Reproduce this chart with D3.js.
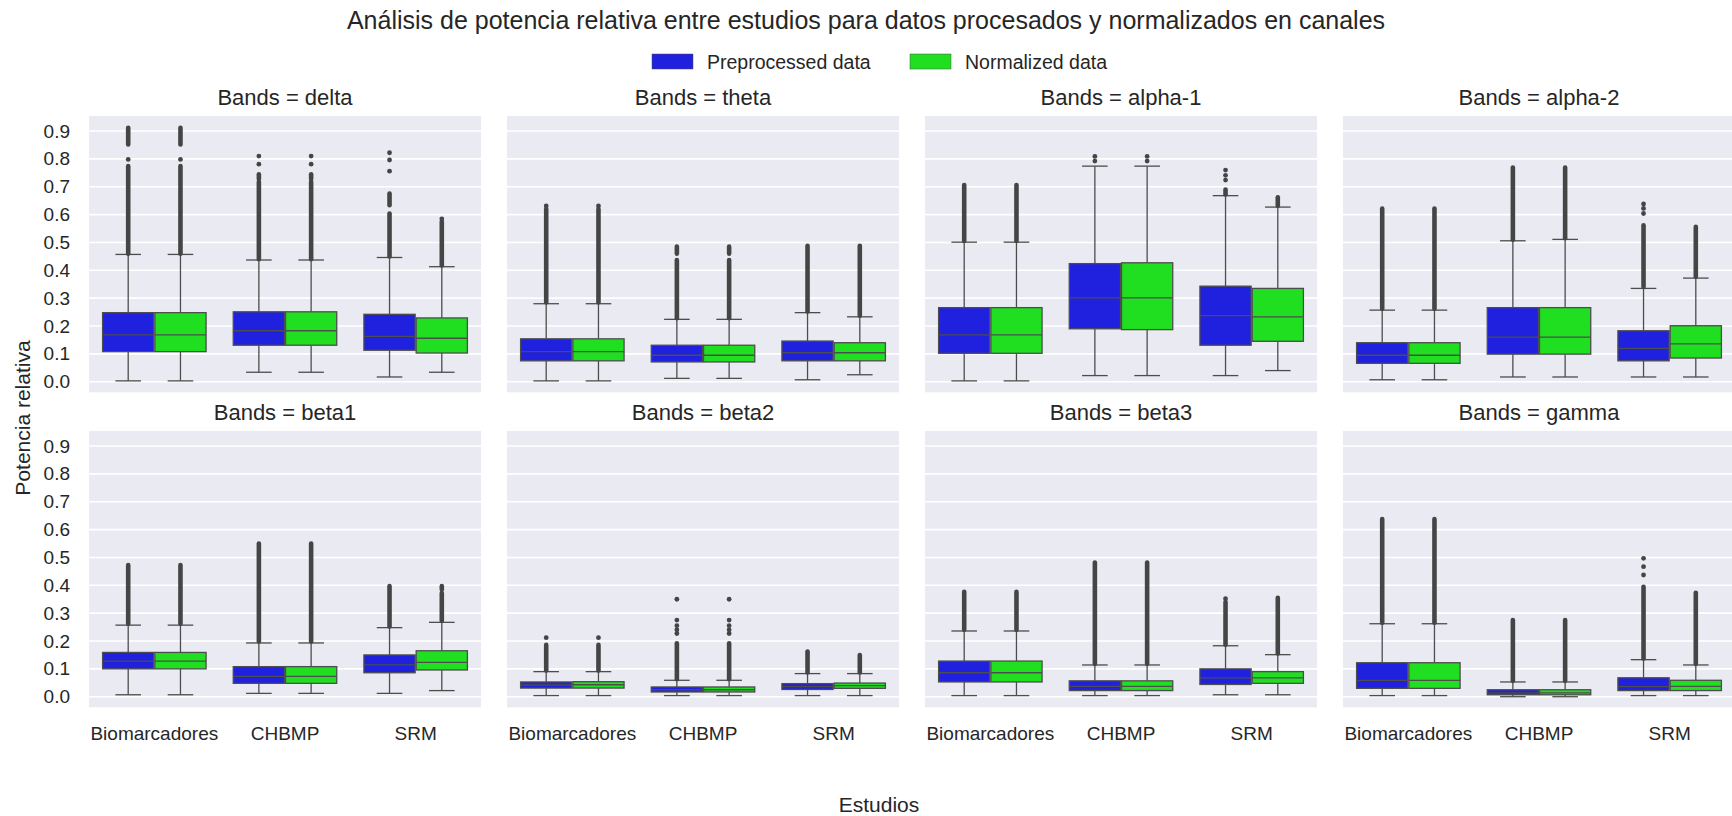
<!DOCTYPE html>
<html><head><meta charset="utf-8">
<script src="https://cdn.jsdelivr.net/npm/d3@7"></script>
<style>
html,body{margin:0;padding:0;background:#fff;overflow:hidden}
svg{display:block}
text{font-family:"Liberation Sans",Arial,Helvetica,sans-serif;fill:#262626}
</style>
</head><body>
<svg id="chart" width="1732" height="816"></svg>
<script>
// ---------------- DATA ----------------
const bands = ["delta","theta","alpha-1","alpha-2","beta1","beta2","beta3","gamma"];
const studies = ["Biomarcadores","CHBMP","SRM"];
const hues = ["Preprocessed data","Normalized data"];
const hueColors = ["#2020df","#20df20"];
const yTicks = [0,0.1,0.2,0.3,0.4,0.5,0.6,0.7,0.8,0.9];
const yTickLabels = ["0.0","0.1","0.2","0.3","0.4","0.5","0.6","0.7","0.8","0.9"];
const titleText = "Análisis de potencia relativa entre estudios para datos procesados y normalizados en canales";
const xLabel = "Estudios";
const yLabel = "Potencia relativa";

// Per band: 6 boxes ordered [Bio-Pre, Bio-Norm, CHBMP-Pre, CHBMP-Norm, SRM-Pre, SRM-Norm]
const whiskerLow = [
  [0.003,0.003,0.034,0.034,0.017,0.034],
  [0.003,0.003,0.012,0.012,0.007,0.025],
  [0.003,0.003,0.022,0.022,0.022,0.040],
  [0.007,0.007,0.017,0.017,0.017,0.017],
  [0.007,0.007,0.012,0.012,0.012,0.022],
  [0.004,0.004,0.004,0.004,0.004,0.004],
  [0.004,0.004,0.004,0.004,0.007,0.007],
  [0.004,0.004,0.000,0.000,0.004,0.004]
];
const q1 = [
  [0.108,0.108,0.131,0.131,0.113,0.103],
  [0.075,0.075,0.071,0.071,0.075,0.075],
  [0.102,0.102,0.190,0.187,0.131,0.145],
  [0.066,0.066,0.099,0.099,0.075,0.085],
  [0.100,0.100,0.048,0.048,0.086,0.096],
  [0.031,0.031,0.017,0.017,0.026,0.030],
  [0.053,0.053,0.022,0.022,0.044,0.048],
  [0.030,0.030,0.007,0.007,0.022,0.022]
];
const median = [
  [0.168,0.168,0.183,0.183,0.163,0.156],
  [0.108,0.108,0.095,0.095,0.104,0.104],
  [0.168,0.168,0.301,0.301,0.237,0.233],
  [0.095,0.095,0.160,0.160,0.120,0.136],
  [0.128,0.128,0.073,0.073,0.114,0.123],
  [0.042,0.043,0.025,0.025,0.036,0.040],
  [0.086,0.086,0.037,0.037,0.068,0.068],
  [0.059,0.059,0.014,0.014,0.036,0.037]
];
const q3 = [
  [0.248,0.248,0.251,0.251,0.242,0.229],
  [0.154,0.154,0.131,0.131,0.146,0.140],
  [0.266,0.266,0.424,0.427,0.343,0.335],
  [0.140,0.140,0.266,0.266,0.183,0.201],
  [0.159,0.159,0.108,0.108,0.150,0.165],
  [0.053,0.054,0.035,0.035,0.047,0.049],
  [0.128,0.128,0.057,0.057,0.100,0.090],
  [0.122,0.122,0.025,0.025,0.068,0.059]
];
const whiskerHigh = [
  [0.457,0.457,0.437,0.437,0.446,0.413],
  [0.280,0.280,0.224,0.224,0.248,0.233],
  [0.501,0.501,0.774,0.774,0.668,0.627],
  [0.257,0.257,0.506,0.511,0.335,0.372],
  [0.257,0.257,0.193,0.193,0.248,0.267],
  [0.090,0.090,0.059,0.059,0.083,0.083],
  [0.236,0.236,0.114,0.114,0.183,0.151],
  [0.262,0.262,0.053,0.053,0.133,0.114]
];
// Dense runs of outliers [from, to]
const flierRuns = [
  [[[0.46,0.774],[0.852,0.912]],[[0.46,0.774],[0.852,0.912]],[[0.44,0.718],[0.728,0.745]],[[0.44,0.718],[0.728,0.745]],[[0.45,0.604],[0.634,0.676]],[[0.417,0.575]]],
  [[[0.285,0.62]],[[0.285,0.62]],[[0.228,0.437],[0.46,0.485]],[[0.228,0.437],[0.46,0.485]],[[0.252,0.488]],[[0.237,0.488]]],
  [[[0.505,0.706]],[[0.505,0.706]],[],[],[[0.672,0.69]],[[0.632,0.662]]],
  [[[0.262,0.622]],[[0.262,0.622]],[[0.51,0.769]],[[0.515,0.769]],[[0.34,0.562]],[[0.377,0.556]]],
  [[[0.262,0.473]],[[0.262,0.473]],[[0.198,0.55]],[[0.198,0.55]],[[0.252,0.397]],[[0.272,0.372],[0.385,0.397]]],
  [[[0.094,0.186]],[[0.094,0.186]],[[0.063,0.192]],[[0.063,0.192]],[[0.087,0.162]],[[0.087,0.15]]],
  [[[0.24,0.377]],[[0.24,0.377]],[[0.118,0.482]],[[0.118,0.482]],[[0.187,0.34]],[[0.155,0.355]]],
  [[[0.266,0.638]],[[0.266,0.638]],[[0.057,0.275]],[[0.057,0.275]],[[0.137,0.395]],[[0.118,0.373]]]
];
// Isolated outliers
const flierPoints = [
  [[0.798],[0.798],[0.781,0.81],[0.781,0.81],[0.756,0.796,0.822],[0.585]],
  [[0.631],[0.631],[],[],[],[]],
  [[],[],[0.792,0.809],[0.792,0.809],[0.724,0.741,0.76],[]],
  [[],[],[],[],[0.604,0.622,0.638],[]],
  [[],[],[],[],[],[]],
  [[0.212],[0.212],[0.227,0.24,0.255,0.275,0.35],[0.227,0.24,0.255,0.275,0.35],[],[]],
  [[],[],[],[],[0.352],[]],
  [[],[],[],[],[0.437,0.467,0.497],[]]
];

// ---------------- LAYOUT ----------------
const svg = d3.select("#chart");
const panelW = 392, panelH = 276.3;
const panelX0 = 89, panelPitchX = 418;
const panelY0 = 116, panelPitchY = 315;
const lineColor = "#4d4d4d";
const flierColor = "#454545";

const y = d3.scaleLinear().domain([-0.038, 0.954]).range([panelH, 0]);
const x = d3.scaleBand().domain(studies).range([0, panelW]).paddingInner(0).paddingOuter(0);
const bw = x.bandwidth();
const xh = d3.scaleBand().domain(hues).range([-0.4*bw, 0.4*bw]);
const boxW = xh.bandwidth()*0.98;

bands.forEach((band, bi) => {
  const col = bi % 4, row = Math.floor(bi / 4);
  const g = svg.append("g").attr("transform", `translate(${panelX0 + col*panelPitchX},${panelY0 + row*panelPitchY})`);
  g.append("rect").attr("width", panelW).attr("height", panelH).attr("fill", "#eaeaf2");
  g.selectAll("line.grid").data(yTicks).join("line")
    .attr("x1", 0).attr("x2", panelW)
    .attr("y1", d => y(d)).attr("y2", d => y(d))
    .attr("stroke", "#fff").attr("stroke-width", 1.6);

  g.append("text").attr("x", panelW/2).attr("y", -19)
    .attr("text-anchor", "middle").attr("dominant-baseline", "central")
    .attr("font-size", 22).text("Bands = " + band);

  if (col === 0) {
    g.selectAll("text.yt").data(yTicks).join("text")
      .attr("x", -19).attr("y", d => y(d))
      .attr("text-anchor", "end").attr("dominant-baseline", "central")
      .attr("font-size", 19).text((d, i) => yTickLabels[i]);
  }
  if (row === 1) {
    g.selectAll("text.xt").data(studies).join("text")
      .attr("x", d => x(d) + bw/2).attr("y", 733 - (panelY0 + panelPitchY))
      .attr("text-anchor", "middle").attr("dominant-baseline", "central")
      .attr("font-size", 19).text(d => d);
  }

  studies.forEach((st, si) => {
    hues.forEach((hu, hi) => {
      const k = si*2 + hi;
      const cx = x(st) + bw/2 + xh(hu) + xh.bandwidth()/2;
      const left = cx - boxW/2;
      const capW = boxW/2;
      g.append("line").attr("x1", cx).attr("x2", cx)
        .attr("y1", y(q1[bi][k])).attr("y2", y(whiskerLow[bi][k]))
        .attr("stroke", lineColor).attr("stroke-width", 1.3);
      g.append("line").attr("x1", cx).attr("x2", cx)
        .attr("y1", y(q3[bi][k])).attr("y2", y(whiskerHigh[bi][k]))
        .attr("stroke", lineColor).attr("stroke-width", 1.3);
      [whiskerLow[bi][k], whiskerHigh[bi][k]].forEach(v => {
        g.append("line").attr("x1", cx - capW/2).attr("x2", cx + capW/2)
          .attr("y1", y(v)).attr("y2", y(v))
          .attr("stroke", lineColor).attr("stroke-width", 1.3);
      });
      g.append("rect").attr("x", left).attr("width", boxW)
        .attr("y", y(q3[bi][k])).attr("height", y(q1[bi][k]) - y(q3[bi][k]))
        .attr("fill", hueColors[hi]).attr("stroke", lineColor).attr("stroke-width", 1.3);
      g.append("line").attr("x1", left).attr("x2", left + boxW)
        .attr("y1", y(median[bi][k])).attr("y2", y(median[bi][k]))
        .attr("stroke", lineColor).attr("stroke-width", 1.3);
      flierRuns[bi][k].forEach(r => {
        g.append("line").attr("x1", cx).attr("x2", cx)
          .attr("y1", y(r[0])).attr("y2", y(r[1]))
          .attr("stroke", flierColor).attr("stroke-width", 4.6).attr("stroke-linecap", "round");
      });
      g.selectAll(null).data(flierPoints[bi][k]).join("circle")
        .attr("cx", cx).attr("cy", d => y(d)).attr("r", 2.4).attr("fill", flierColor);
    });
  });
});

svg.append("text").attr("x", 866).attr("y", 20).attr("text-anchor", "middle")
  .attr("dominant-baseline", "central").attr("font-size", 25).text(titleText);
const legX = [652, 910];
hues.forEach((h, i) => {
  svg.append("rect").attr("x", legX[i]).attr("y", 54).attr("width", 41).attr("height", 15)
    .attr("fill", hueColors[i]).attr("stroke", "#4d4d4d").attr("stroke-width", 0.5);
  svg.append("text").attr("x", legX[i] + 55).attr("y", 61.5).attr("dominant-baseline", "central")
    .attr("font-size", 19.5).text(h);
});
svg.append("text").attr("x", 879).attr("y", 804).attr("text-anchor", "middle")
  .attr("dominant-baseline", "central").attr("font-size", 21).text(xLabel);
svg.append("text").attr("transform", "translate(22,418) rotate(-90)").attr("text-anchor", "middle")
  .attr("dominant-baseline", "central").attr("font-size", 21).text(yLabel);
</script>
</body></html>
